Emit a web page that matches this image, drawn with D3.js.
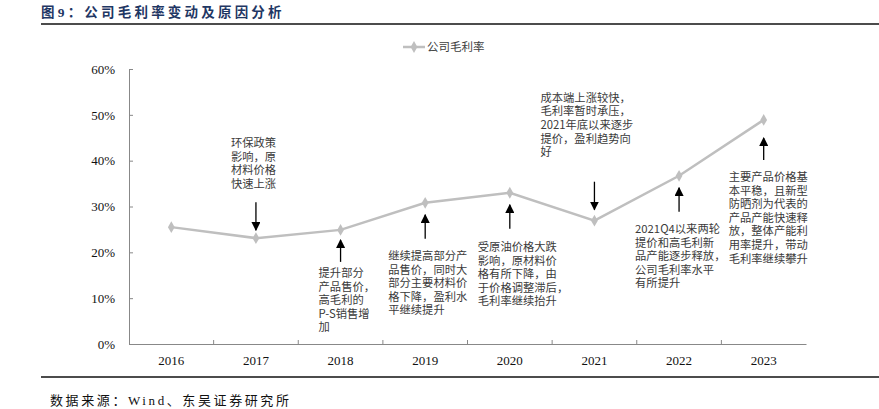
<!DOCTYPE html>
<html>
<head>
<meta charset="utf-8">
<script src="https://cdn.jsdelivr.net/npm/d3@7"></script>
<style>
  body { margin: 0; background: #fff; }
  svg text { font-family: "Noto Sans CJK SC", "Noto Sans", sans-serif; }
</style>
</head>
<body>
<div id="chart"></div>
<script>
// data
const years = ["2016", "2017", "2018", "2019", "2020", "2021", "2022", "2023"];
const grossMargin = [25.5, 23.1, 24.9, 30.8, 33.0, 26.9, 36.7, 48.9];
const yTicks = [0, 10, 20, 30, 40, 50, 60];
const seriesName = "公司毛利率";
const titleText = "图9：公司毛利率变动及原因分析";
const sourceText = "数据来源：Wind、东吴证券研究所";

// notes per year: direction of arrow and text lines
const noteYears = ["2017", "2018", "2019", "2020", "2021", "2022", "2023"];
const noteDirs = ["down", "up", "up", "up", "down", "up", "up"];
const noteLines = [
  ["环保政策", "影响，原", "材料价格", "快速上涨"],
  ["提升部分", "产品售价，", "高毛利的", "P-S销售增", "加"],
  ["继续提高部分产", "品售价，同时大", "部分主要材料价", "格下降，盈利水", "平继续提升"],
  ["受原油价格大跌", "影响，原材料价", "格有所下降，由", "于价格调整滞后，", "毛利率继续抬升"],
  ["成本端上涨较快，", "毛利率暂时承压，", "2021年底以来逐步", "提价，盈利趋势向", "好"],
  ["2021Q4以来两轮", "提价和高毛利新", "品产能逐步释放，", "公司毛利率水平", "有所提升"],
  ["主要产品价格基", "本平稳，且新型", "防晒剂为代表的", "产品产能快速释", "放，整体产能利", "用率提升，带动", "毛利率继续攀升"]
];

// layout (pixel offsets for each note, relative to the point)
const noteLayout = [
  {dx: -25, arrow: [-36, -8], textTop: -101},
  {dx: -22, arrow: [10, 32], textTop: 37},
  {dx: -37, arrow: [12, 36], textTop: 47},
  {dx: -32, arrow: [12, 36], textTop: 48},
  {dx: -54, arrow: [-39, -11], textTop: -129},
  {dx: -44, arrow: [12, 36], textTop: 47},
  {dx: -35, arrow: [18, 40], textTop: 51}
];

const svgWidth = 879, svgHeight = 409;
const margin = {top: 69, left: 129, right: 73, bottom: 65};
const width = svgWidth - margin.left - margin.right;
const height = svgHeight - margin.top - margin.bottom;

const svg = d3.select("#chart").append("svg")
  .attr("width", svgWidth).attr("height", svgHeight);

// title + rule
svg.append("text").attr("x", 41).attr("y", 17)
  .attr("font-size", 13.5).attr("font-weight", "bold")
  .attr("letter-spacing", 3.2)
  .style("font-family", "'Liberation Serif', 'Noto Sans CJK SC', serif")
  .attr("fill", "#1f3764").text(titleText);
svg.append("line").attr("x1", 41).attr("x2", 879).attr("y1", 24).attr("y2", 24)
  .attr("stroke", "#111").attr("stroke-width", 1.5);

// footer
svg.append("line").attr("x1", 41).attr("x2", 879).attr("y1", 377).attr("y2", 377)
  .attr("stroke", "#111").attr("stroke-width", 1.5);
svg.append("text").attr("x", 50).attr("y", 405)
  .attr("font-size", 13).attr("letter-spacing", 2.6)
  .style("font-family", "'Liberation Serif', 'Noto Sans CJK SC', serif")
  .attr("fill", "#111").text(sourceText);

const g = svg.append("g").attr("transform", `translate(${margin.left},${margin.top})`);

const x = d3.scaleBand().domain(years).range([0, width]);
const y = d3.scaleLinear().domain([0, 60]).range([height, 0]);
const cx = d => x(d) + x.bandwidth() / 2;

// y axis
const yAxis = g.append("g")
  .call(d3.axisLeft(y).tickValues(yTicks).tickFormat(d => d + "%").tickSize(-4).tickPadding(14));
yAxis.select(".domain").attr("stroke", "#888");
yAxis.selectAll(".tick line").attr("stroke", "#888");
yAxis.selectAll(".tick text")
  .style("font-family", "'Liberation Serif', serif").attr("font-size", 13).attr("fill", "#111");

// x axis
const xAxis = g.append("g").attr("transform", `translate(0,${height})`)
  .call(d3.axisBottom(x).tickSize(0).tickPadding(12));
xAxis.select(".domain").attr("stroke", "#888");
xAxis.selectAll(".tick text")
  .style("font-family", "'Liberation Serif', serif").attr("font-size", 13).attr("fill", "#111");
g.append("g").selectAll("line").data(years.slice(1))
  .join("line")
  .attr("x1", d => x(d)).attr("x2", d => x(d))
  .attr("y1", height).attr("y2", height - 4)
  .attr("stroke", "#888");

// line + markers
const pts = years.map((yr, i) => ({yr, v: grossMargin[i]}));
const lineColor = "#bfbfbf";
g.append("path").datum(pts)
  .attr("fill", "none").attr("stroke", lineColor).attr("stroke-width", 2.5)
  .attr("d", d3.line().x(d => cx(d.yr)).y(d => y(d.v)));
const diamond = d3.symbol().type(d3.symbolDiamond).size(40);
g.selectAll(".mk").data(pts).join("path")
  .attr("transform", d => `translate(${cx(d.yr)},${y(d.v)})`)
  .attr("d", diamond).attr("fill", lineColor);

// legend
const lg = svg.append("g").attr("transform", "translate(403,47)");
lg.append("line").attr("x1", 0).attr("x2", 22).attr("stroke", lineColor).attr("stroke-width", 2.5);
lg.append("path").attr("transform", "translate(11,0)").attr("d", diamond).attr("fill", lineColor);
lg.append("text").attr("x", 24).attr("y", 4).attr("font-size", 11.5).attr("fill", "#404040").text(seriesName);

// notes with arrows
svg.append("defs").append("marker").attr("id", "ah")
  .attr("viewBox", "0 0 10 10").attr("refX", 9).attr("refY", 5)
  .attr("markerWidth", 7).attr("markerHeight", 7).attr("orient", "auto-start-reverse")
  .append("path").attr("d", "M0,0 L10,5 L0,10 z").attr("fill", "#000");

noteYears.forEach((yr, i) => {
  const v = grossMargin[years.indexOf(yr)];
  const px = cx(yr), py = y(v);
  const L = noteLayout[i];
  const a0 = py + L.arrow[0], a1 = py + L.arrow[1];
  // arrow from text side toward the point
  const from = noteDirs[i] === "down" ? a0 : a1;
  const to = noteDirs[i] === "down" ? a1 : a0;
  g.append("line").attr("x1", px).attr("x2", px).attr("y1", from).attr("y2", to)
    .attr("stroke", "#000").attr("stroke-width", 1.3).attr("marker-end", "url(#ah)");
  noteLines[i].forEach((s, k) => {
    g.append("text").attr("x", px + L.dx).attr("y", py + L.textTop + k * 13.6)
      .attr("dy", "0.9em").attr("font-size", 11.3).attr("fill", "#3a3a3a").text(s);
  });
});
</script>
</body>
</html>
